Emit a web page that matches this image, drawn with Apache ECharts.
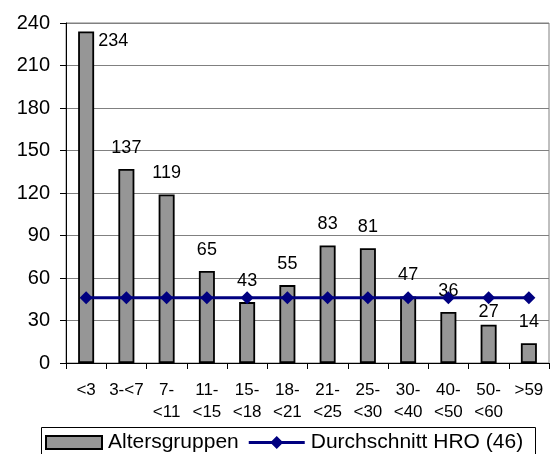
<!DOCTYPE html>
<html>
<head>
<meta charset="utf-8">
<script src="https://cdn.jsdelivr.net/npm/echarts@6/dist/echarts.min.js"></script>
<style>
  html, body { margin: 0; padding: 0; background: #fff; }
  #chart { width: 550px; height: 454px; }
</style>
</head>
<body>
<div id="chart"></div>
<script>
// Age groups (two-line labels where the range wraps)
const categories = ['<3', '3-<7', '7-\n<11', '11-\n<15', '15-\n<18', '18-\n<21',
  '21-\n<25', '25-\n<30', '30-\n<40', '40-\n<50', '50-\n<60', '>59'];
// Counts per age group
const altersgruppen = [234, 137, 119, 65, 43, 55, 83, 81, 47, 36, 27, 14];
// City-wide average (HRO), constant across groups
const durchschnitt = [46, 46, 46, 46, 46, 46, 46, 46, 46, 46, 46, 46];
const yTicks = { min: 0, max: 240, interval: 30 };

const FONT = '"Liberation Sans", Arial, sans-serif';

// legend key for the average: a line with a diamond in the middle
const LINE_DIAMOND_ICON = 'path://M0 5L56 5L56 8L0 8Z M21.5 6.5L28 0L34.5 6.5L28 13Z';

const barData = altersgruppen.map((v, i) => {
  if (i === 0) {
    // tallest bar: value sits beside the top instead of above
    return { value: v, label: { position: ['100%', 0], offset: [4, 1] } };
  }
  if (i === 10) {
    // keep this value just under the average line
    return { value: v, label: { distance: 4 } };
  }
  return v;
});

const chart = echarts.init(document.getElementById('chart'), null, { renderer: 'canvas' });
chart.setOption({
  animation: false,
  backgroundColor: '#fff',
  textStyle: { fontFamily: FONT, color: '#000' },
  grid: {
    left: 66, top: 23, right: 1, bottom: 91,
    show: true, borderColor: '#808080', borderWidth: 1, backgroundColor: 'transparent'
  },
  xAxis: {
    type: 'category',
    data: categories,
    boundaryGap: true,
    axisLine: { lineStyle: { color: '#000', width: 1 } },
    axisTick: { show: true, length: 6, inside: false, alignWithLabel: false, lineStyle: { color: '#000' } },
    axisLabel: {
      interval: 0, margin: 16, color: '#000', fontFamily: FONT, fontSize: 17, lineHeight: 22
    },
    splitLine: { show: false }
  },
  yAxis: {
    type: 'value',
    min: yTicks.min, max: yTicks.max, interval: yTicks.interval,
    axisLine: { show: true, lineStyle: { color: '#000', width: 1 } },
    axisTick: { show: true, length: 6, lineStyle: { color: '#000' } },
    axisLabel: { margin: 16, color: '#000', fontFamily: FONT, fontSize: 20 },
    splitLine: { show: true, lineStyle: { color: '#808080', width: 1 } }
  },
  legend: {
    left: 45, top: 432,
    itemWidth: 56, itemHeight: 13, itemGap: 10,
    padding: 0,
    symbolKeepAspect: false,
    textStyle: { fontFamily: FONT, fontSize: 21, color: '#000', padding: [0, 0, 0, 1] },
    data: [
      { name: 'Altersgruppen', icon: 'rect' },
      { name: 'Durchschnitt HRO (46)', icon: LINE_DIAMOND_ICON,
        itemStyle: { color: '#000080', borderWidth: 0 } }
    ]
  },
  graphic: [{
    type: 'rect',
    left: 39, top: 425,
    shape: { width: 494, height: 40 },
    style: { fill: 'none', stroke: '#000', lineWidth: 1 },
    z: -1
  }],
  series: [
    {
      name: 'Altersgruppen',
      type: 'bar',
      data: barData,
      barWidth: 16,
      itemStyle: { color: '#969696', borderColor: '#000', borderWidth: 1.8 },
      label: {
        show: true, position: 'top', distance: 12,
        color: '#000', fontFamily: FONT, fontSize: 18
      },
      z: 2
    },
    {
      name: 'Durchschnitt HRO (46)',
      type: 'line',
      data: durchschnitt,
      symbol: 'diamond',
      symbolSize: 13,
      lineStyle: { color: '#000080', width: 3 },
      itemStyle: { color: '#000080' },
      z: 3
    }
  ]
});
</script>
</body>
</html>
